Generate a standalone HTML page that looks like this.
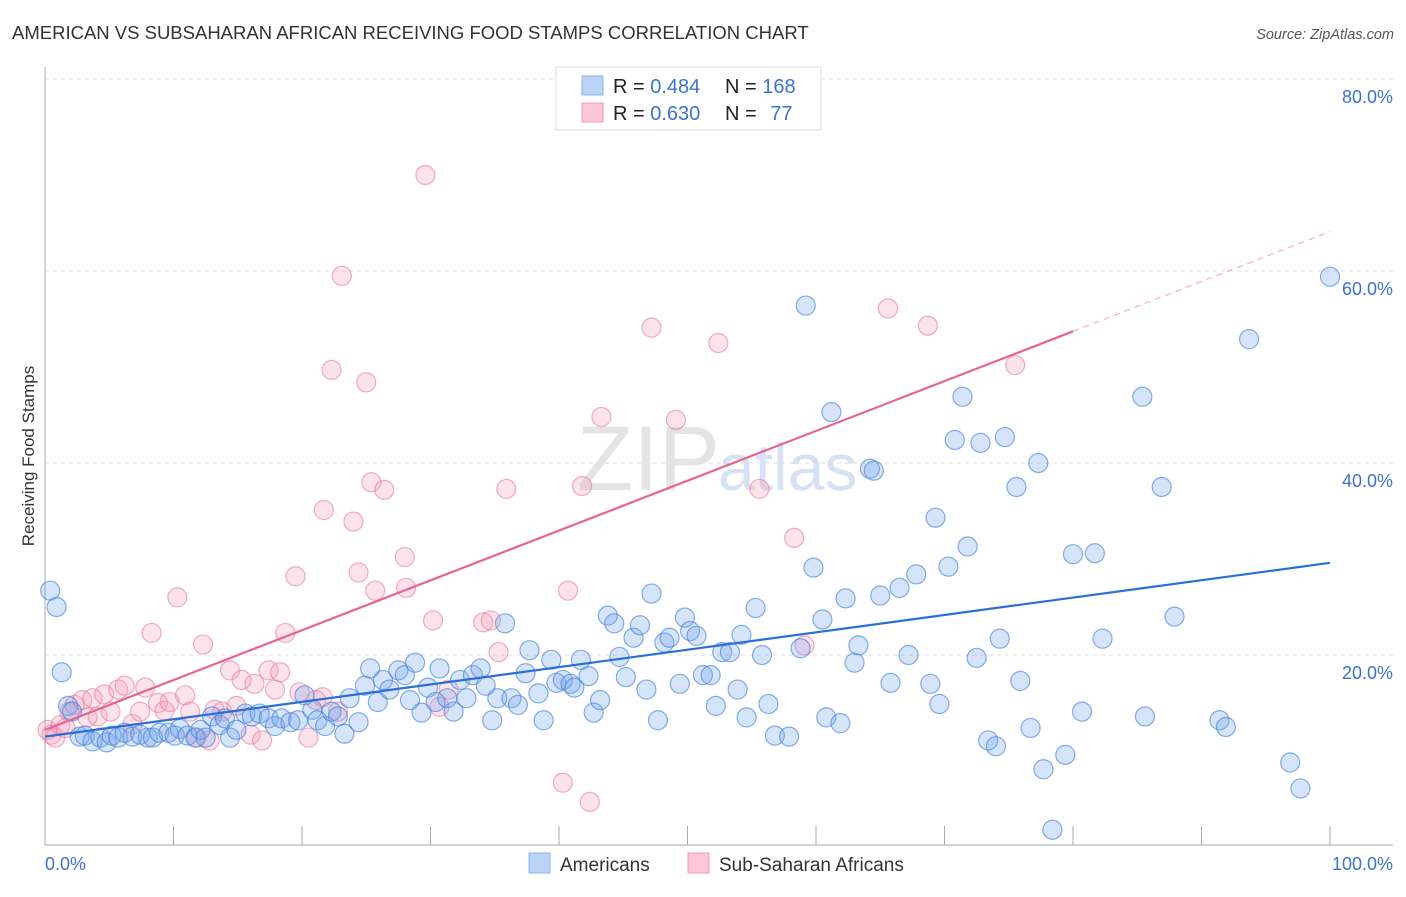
<!DOCTYPE html>
<html><head><meta charset="utf-8"><style>
body{margin:0;background:#fff;font-family:"Liberation Sans",sans-serif;}
svg text{font-family:"Liberation Sans",sans-serif;}
</style></head><body>
<svg id="chart" width="1406" height="892" xmlns="http://www.w3.org/2000/svg">
<text x="12" y="39" font-size="18.5" fill="#333">AMERICAN VS SUBSAHARAN AFRICAN RECEIVING FOOD STAMPS CORRELATION CHART</text>
<text x="1394" y="39" font-size="14.5" fill="#555" font-style="italic" text-anchor="end">Source: ZipAtlas.com</text>
<text x="34" y="456" font-size="17" fill="#333" text-anchor="middle" transform="rotate(-90 34 456)">Receiving Food Stamps</text>
<g id="grid"></g>
<text x="720" y="490" font-size="92" fill="#e4e4e4" text-anchor="end" font-family="Liberation Serif">ZIP</text>
<text x="718" y="490" font-size="66" fill="#d6e2f3">atlas</text>
<g id="pts"></g>
<g id="lines"></g>
<g>
<rect x="556" y="67" width="265" height="63" fill="#fff" stroke="#ddd"/>
<rect x="582" y="76" width="21" height="19" fill="#b9d2f6" stroke="#8db3ea"/>
<rect x="582" y="103" width="21" height="19" fill="#fbc6d6" stroke="#f19ab4"/>
<text x="613" y="93" font-size="20" fill="#222">R = <tspan fill="#3b73d1">0.484</tspan></text>
<text x="725" y="93" font-size="20" fill="#222">N = <tspan fill="#3b73d1">168</tspan></text>
<text x="613" y="120" font-size="20" fill="#222">R = <tspan fill="#3b73d1">0.630</tspan></text>
<text x="725" y="120" font-size="20" fill="#222">N = <tspan fill="#3b73d1" dx="8">77</tspan></text>
</g>
<text x="45" y="870" font-size="18" fill="#3b73d1">0.0%</text>
<text x="1393" y="870" font-size="18" fill="#3b73d1" text-anchor="end">100.0%</text>
<rect x="529" y="853" width="21" height="20" fill="#b9d2f6" stroke="#8db3ea"/>
<text x="560" y="871" font-size="19" fill="#333">Americans</text>
<rect x="688" y="853" width="21" height="20" fill="#fbc6d6" stroke="#f19ab4"/>
<text x="719" y="871" font-size="19" fill="#333">Sub-Saharan Africans</text>
</svg>
<script>
const blueX=[0.4,0.9,1.3,1.8,2.1,2.7,3.1,3.7,4.3,4.8,5.2,5.7,6.2,6.8,7.4,8.0,8.4,8.9,9.6,10.1,10.5,11.1,11.7,12.1,12.5,13.0,13.6,14.0,14.4,14.9,15.6,16.1,16.7,17.4,17.9,18.4,19.1,19.7,20.2,20.8,21.2,21.8,22.3,22.8,23.3,23.7,24.4,24.9,25.3,25.9,26.3,26.8,27.5,28.0,28.4,28.8,29.3,29.8,30.4,30.7,31.3,31.8,32.3,32.8,33.3,33.9,34.3,34.8,35.2,35.8,36.3,36.8,37.4,37.7,38.4,38.8,39.4,39.8,40.3,40.9,41.2,41.7,42.3,42.7,43.2,43.8,44.3,44.7,45.2,45.8,46.3,46.8,47.2,47.7,48.2,48.6,49.4,49.8,50.2,50.7,51.2,51.8,52.2,52.7,53.3,53.9,54.2,54.6,55.3,55.8,56.3,56.8,57.9,58.8,59.2,59.8,60.5,60.8,61.2,61.9,62.3,63.0,63.3,64.2,64.5,65.0,65.8,66.5,67.2,67.8,68.9,69.3,69.6,70.3,70.8,71.4,71.8,72.5,72.8,73.4,74.0,74.3,74.7,75.6,75.9,76.7,77.3,77.7,78.4,79.4,80.0,80.7,81.7,82.3,85.4,85.6,86.9,87.9,91.4,91.9,93.7,96.9,97.7,100.0];
const blueY=[26.7,25.0,18.2,14.7,14.1,11.5,11.6,11.0,11.4,10.9,11.6,11.4,11.9,11.5,11.7,11.4,11.4,11.9,11.9,11.6,12.3,11.6,11.4,12.2,11.4,13.6,12.7,13.4,11.4,12.2,13.9,13.6,13.9,13.4,12.6,13.4,13.0,13.2,15.8,14.3,13.2,12.6,14.1,13.6,11.8,15.5,13.0,16.8,18.6,15.1,17.4,16.4,18.4,17.9,15.3,19.2,14.0,16.6,15.1,18.6,15.5,14.1,17.4,15.5,17.9,18.6,16.8,13.2,15.5,23.3,15.5,14.8,18.1,20.5,16.0,13.2,19.5,17.1,17.4,17.0,16.6,19.5,17.8,14.0,15.3,24.1,23.3,19.8,17.7,21.8,23.1,16.4,26.4,13.2,21.3,21.8,17.0,23.9,22.5,22.0,17.9,17.9,14.7,20.3,20.3,16.4,22.1,13.5,24.9,20.0,14.9,11.6,11.5,20.7,56.4,29.1,23.7,13.5,45.3,12.9,25.9,19.2,21.0,39.4,39.2,26.2,17.1,27.0,20.0,28.4,17.0,34.3,14.9,29.2,42.4,46.9,31.3,19.7,42.1,11.1,10.5,21.7,42.7,37.5,17.3,12.4,40.0,8.1,1.8,9.6,30.5,14.1,30.6,21.7,46.9,13.6,37.5,24.0,13.2,12.5,52.9,8.8,6.1,59.4];
const pinkX=[0.2,0.5,0.8,1.2,1.6,1.9,2.3,2.9,3.3,3.7,4.1,4.6,5.1,5.7,6.2,6.8,7.4,7.8,8.3,8.8,9.3,9.7,10.3,10.9,11.3,11.8,12.3,12.8,13.2,13.8,14.4,14.9,15.3,16.0,16.3,16.9,17.4,17.9,18.3,18.7,19.5,19.8,20.5,21.1,21.6,21.7,22.3,22.8,23.1,24.0,24.4,25.0,25.4,25.7,26.4,28.0,28.1,29.6,30.2,30.7,31.4,34.1,34.7,35.3,35.9,40.3,40.7,41.8,42.4,43.3,47.2,49.1,52.4,55.6,58.3,59.1,65.6,68.7,75.5];
const pinkY=[12.2,11.7,11.4,12.7,12.4,14.1,14.8,15.3,13.5,15.5,13.6,15.9,14.1,16.4,16.8,12.8,14.1,16.6,22.3,15.0,14.2,15.1,26.0,15.8,14.1,11.4,21.1,11.1,14.3,14.1,18.4,14.7,17.4,11.7,17.0,11.1,18.4,16.4,18.2,22.3,28.2,16.1,11.4,15.3,15.6,35.1,49.7,14.1,59.5,33.9,28.6,48.4,38.0,26.7,37.2,30.2,27.0,70.0,23.6,14.6,16.4,23.4,23.6,20.3,37.3,6.7,26.7,37.6,4.7,44.8,54.1,44.5,52.5,37.3,32.2,21.0,56.1,54.3,50.2];
const yTicks=[20,40,60,80];
const xTicks=[10,20,30,40,50,60,70,80,90,100];
const blueLine=[11.5,29.6];
const pinkLine=[12.2,64.1];
const pinkSolidEnd=80;

const NS="http://www.w3.org/2000/svg";
const X0=45,X1=1330,Y0=847,PY=9.6;
const sx=v=>X0+(X1-X0)*v/100;
const sy=v=>Y0-v*PY;
function mk(tag,attrs,parent){const e=document.createElementNS(NS,tag);for(const k in attrs)e.setAttribute(k,attrs[k]);parent.appendChild(e);return e;}
const grid=document.getElementById('grid');
yTicks.forEach(t=>{
 const l=mk('line',{x1:45,x2:1393,y1:sy(t),y2:sy(t),stroke:'#dcdcdc','stroke-dasharray':'4,4'},grid);
 
 
 const tx=mk('text',{x:1393,y:sy(t)+24,'font-size':18,fill:'#3b73d1','text-anchor':'end'},grid);
 tx.textContent=t.toFixed(1)+'%';
 
 
});
const ax=mk('line',{x1:45,x2:45,y1:67,y2:845,stroke:'#aaa'},grid);


const bx=mk('line',{x1:45,x2:1393,y1:845,y2:845,stroke:'#aaa'},grid);


xTicks.forEach(t=>{
 const k=mk('line',{x1:sx(t),x2:sx(t),y1:826,y2:845,stroke:'#aaa'},grid);
 
 
});
const pts=document.getElementById('pts');
pinkX.forEach((x,i)=>{
 const c=mk('circle',{cx:sx(x),cy:sy(pinkY[i]),r:9.5,fill:'rgba(246,160,188,0.3)',stroke:'rgba(232,120,158,0.6)','stroke-width':1.2},pts);
 
 
});
blueX.forEach((x,i)=>{
 const c=mk('circle',{cx:sx(x),cy:sy(blueY[i]),r:9.5,fill:'rgba(120,165,235,0.3)',stroke:'rgba(70,130,220,0.65)','stroke-width':1.2},pts);
 
 
});
const lines=document.getElementById('lines');
const bl=mk('line',{x1:sx(0),y1:sy(blueLine[0]),x2:sx(100),y2:sy(blueLine[1]),stroke:'#2a6fd8','stroke-width':2.2},lines);


const pe=pinkLine[0]+(pinkLine[1]-pinkLine[0])*pinkSolidEnd/100;
const pl=mk('line',{x1:sx(0),y1:sy(pinkLine[0]),x2:sx(pinkSolidEnd),y2:sy(pe),stroke:'#e8648f','stroke-width':2.2},lines);


const pd=mk('line',{x1:sx(pinkSolidEnd),y1:sy(pe),x2:sx(100),y2:sy(pinkLine[1]),stroke:'#f0a0b8','stroke-width':1,'stroke-dasharray':'6,5'},lines);


</script>
</body></html>
